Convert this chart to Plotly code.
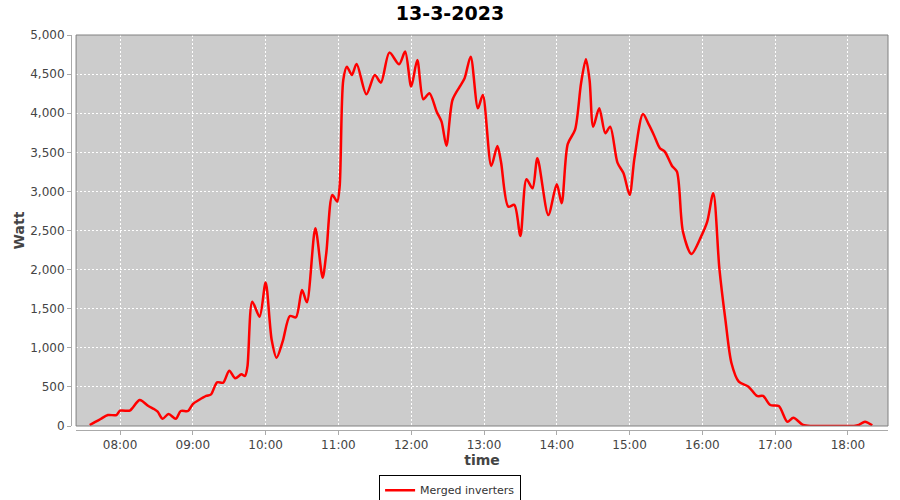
import pandas as pd
import plotly.graph_objects as go

day = "2023-03-13"

# readings of the merged inverters (time of day, watt)
times = ["07:35", "07:40", "07:44", "07:50", "07:57", "08:00", "08:08", "08:10", "08:16", "08:19",
         "08:23", "08:28", "08:31", "08:35", "08:40", "08:46", "08:50", "08:56", "09:00", "09:05",
         "09:11", "09:15", "09:20", "09:25", "09:30", "09:35", "09:40", "09:43", "09:45", "09:49",
         "09:55", "10:00", "10:05", "10:09", "10:14", "10:20", "10:25", "10:30", "10:34", "10:41",
         "10:47", "10:50", "10:55", "10:59", "11:01", "11:04", "11:07", "11:11", "11:15", "11:23",
         "11:30", "11:35", "11:42", "11:50", "11:55", "12:00", "12:05", "12:10", "12:15", "12:21",
         "12:25", "12:29", "12:34", "12:40", "12:44", "12:49", "12:55", "12:59", "13:06", "13:11",
         "13:14", "13:20", "13:25", "13:30", "13:35", "13:40", "13:44", "13:53", "14:00", "14:04",
         "14:09", "14:15", "14:20", "14:24", "14:27", "14:30", "14:35", "14:40", "14:44", "14:50",
         "14:55", "15:00", "15:04", "15:11", "15:16", "15:20", "15:25", "15:29", "15:35", "15:39",
         "15:44", "15:51", "15:59", "16:04", "16:09", "16:14", "16:19", "16:24", "16:30", "16:38",
         "16:45", "16:50", "16:56", "17:03", "17:10", "17:15", "17:23", "17:30", "17:35", "17:40",
         "17:45", "17:50", "17:55", "18:00", "18:05", "18:09", "18:14", "18:20"]
watt = [13, 55, 90, 140, 140, 196, 196, 226, 332, 311,
        260, 217, 183, 93, 153, 93, 192, 192, 281, 332,
        384, 405, 559, 554, 707, 610, 661, 640, 759, 1590,
        1398, 1835, 1100, 873, 1078, 1407, 1390, 1740, 1582, 2528,
        1897, 2209, 2955, 2869, 3061, 4425, 4595, 4489, 4630, 4242,
        4489, 4391, 4775, 4626, 4788, 4340, 4681, 4179, 4255, 4020,
        3892, 3585, 4169, 4340, 4447, 4723, 4063, 4233, 3325, 3581,
        3380, 2805, 2827, 2430, 3155, 3040, 3424, 2699, 3091, 2848,
        3605, 3786, 4383, 4690, 4425, 3828, 4063, 3744, 3828, 3368,
        3232, 2955, 3424, 3990, 3850, 3722, 3552, 3509, 3325, 3253,
        2485, 2200, 2425, 2613, 2976, 2017, 1356, 802, 567, 503,
        384, 384, 269, 256, 55, 106, 13, 0, 0, 0,
        0, 0, 0, 0, 0, 13, 55, 9]

df = pd.DataFrame({"time": pd.to_datetime([f"{day} {t}" for t in times]), "watt": watt})

font = "DejaVu Sans"

fig = go.Figure(go.Scatter(
    x=df["time"], y=df["watt"],
    mode="lines",
    name="Merged inverters",
    line=dict(color="#ff0000", width=2.5, shape="spline", smoothing=0.8),
))

fig.update_layout(
    width=900, height=500,
    margin=dict(l=71, r=12, t=35, b=70, autoexpand=False),
    paper_bgcolor="white",
    plot_bgcolor="#cccccc",
    font=dict(family=font, size=12, color="#444444"),
    title=dict(text="<b>13-3-2023</b>", x=0.5, xanchor="center", y=0.974, yanchor="middle",
               font=dict(family=font, size=19, color="black")),
    showlegend=True,
    legend=dict(orientation="h", x=0.464, xanchor="center", y=-0.113, yanchor="top",
                bordercolor="black", borderwidth=1, bgcolor="white", itemwidth=30,
                font=dict(family=font, size=11, color="#333333")),
    xaxis=dict(
        domain=[0.0062, 1], anchor="free", position=0, automargin=False,
        range=[f"{day} 07:23:45", f"{day} 18:33:00"],
        dtick=3600000, tickformat="%H:%M",
        showgrid=True, gridcolor="white", griddash="2px,2px", gridwidth=1,
        showline=True, linecolor="#aaaaaa", linewidth=1,
        ticks="outside", ticklen=4, tickcolor="#aaaaaa",
        zeroline=False,
        title=dict(text="<b>time</b>", font=dict(family=font, size=14, color="#444444"), standoff=3),
    ),
    yaxis=dict(
        domain=[0.0101, 1], anchor="free", position=0, automargin=False,
        range=[0, 5000], dtick=500, tickformat=",",
        showgrid=True, gridcolor="white", griddash="2px,2px", gridwidth=1,
        showline=True, linecolor="#aaaaaa", linewidth=1,
        ticks="outside", ticklen=4, tickcolor="#aaaaaa",
        zeroline=False,
        title=dict(text="<b>Watt</b>", font=dict(family=font, size=14, color="#444444"), standoff=1),
    ),
)

# plot outline
fig.add_shape(type="rect", xref="x domain", yref="y domain", x0=0, x1=1, y0=0, y1=1,
              line=dict(color="#808080", width=1), layer="above")

# drop the browser's default 8px page margin so the figure sits at the window corner
fig.write_html("out.html", config={"displayModeBar": False},
               post_script="document.body.style.margin = '0';")
